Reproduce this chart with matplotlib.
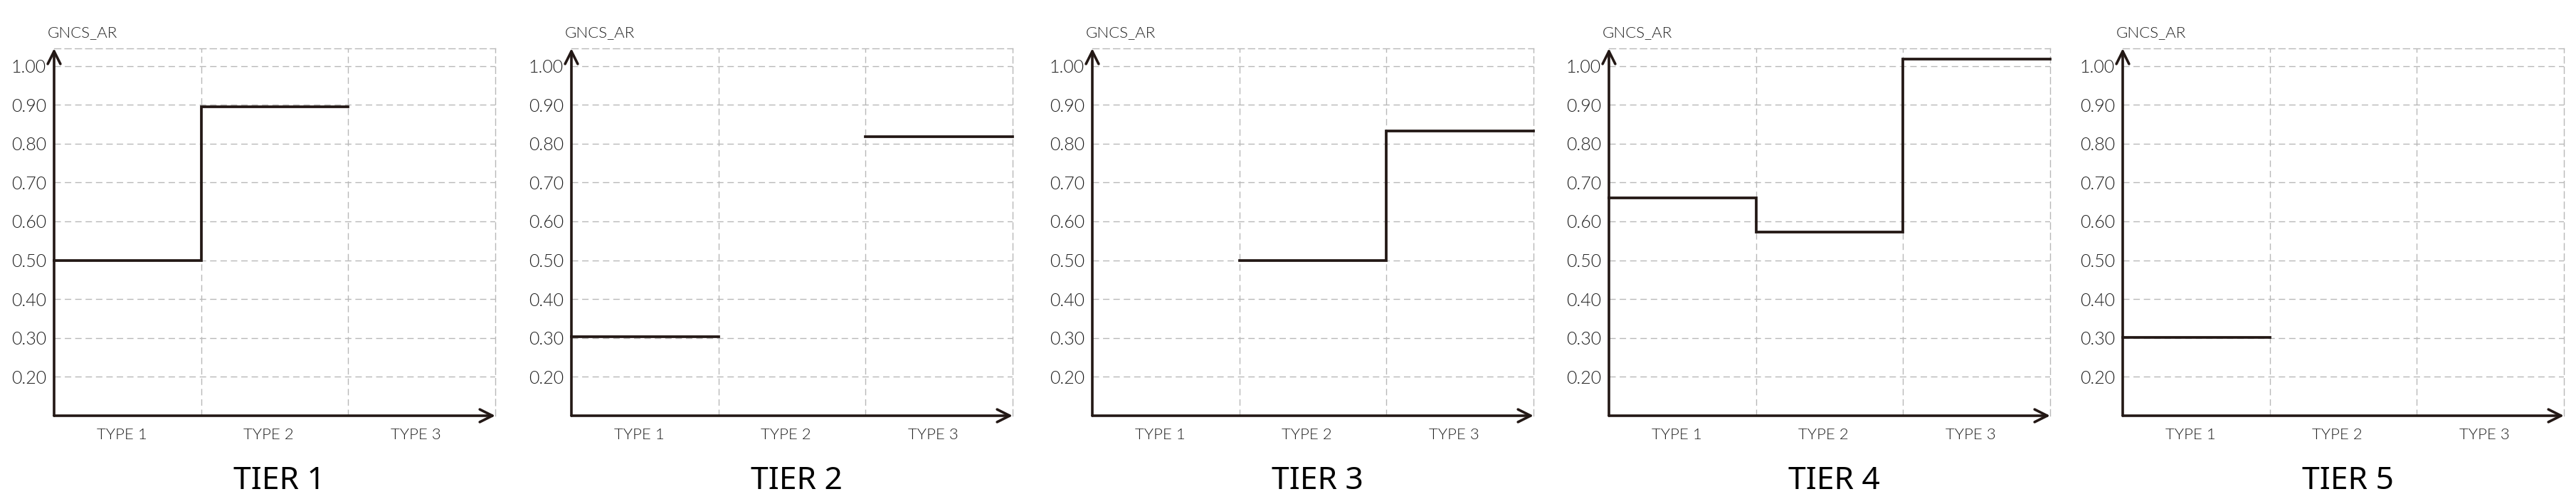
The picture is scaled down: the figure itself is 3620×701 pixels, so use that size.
import numpy as np
import matplotlib
matplotlib.use("Agg")
import matplotlib.pyplot as plt

# data
tiers = ["TIER 1", "TIER 2", "TIER 3", "TIER 4", "TIER 5"]
types = ["TYPE 1", "TYPE 2", "TYPE 3"]
tier1 = [0.50, 0.895, np.nan]
tier2 = [0.304, np.nan, 0.818]
tier3 = [np.nan, 0.50, 0.832]
tier4 = [0.661, 0.573, 1.018]
tier5 = [0.302, np.nan, np.nan]
yticks = [0.20, 0.30, 0.40, 0.50, 0.60, 0.70, 0.80, 0.90, 1.00]
ylabel = "GNCS_AR"

plt.rcParams['font.family'] = ['Noto Sans', 'DejaVu Sans']
plt.rcParams['lines.scale_dashes'] = False

dark = '#231815'
grid_col = '#b8b8b8'
label_col = '#1e1e1e'
thin_font = ['Lato', 'Noto Sans', 'DejaVu Sans']

fig = plt.figure(figsize=(36.2, 7.01), dpi=100)
lefts = [76, 803, 1535, 2261, 2983]
W, H = 3620, 701
ax_w = 620
y_bot, y_top = 584, 68

for i, vals in enumerate([tier1, tier2, tier3, tier4, tier5]):
    ax = fig.add_axes([lefts[i] / W, 1 - y_bot / H, ax_w / W, (y_bot - y_top) / H])
    ax.set_xlim(0, 3)
    ax.set_ylim(0.10, 1.045)

    # grid
    for y in yticks:
        ax.axhline(y, color=grid_col, lw=1.0, ls=(0, (6.5, 4)), zorder=1)
    for x in [1, 2]:
        ax.axvline(x, color=grid_col, lw=1.0, ls=(0, (6.5, 4)), zorder=1)

    for s in ['left', 'bottom']:
        ax.spines[s].set_visible(False)
    for s in ['top', 'right']:
        ax.spines[s].set_color(grid_col)
        ax.spines[s].set_linestyle((0, (6.5, 4)))
        ax.spines[s].set_linewidth(1.0)

    # axis arrows
    ax.annotate('', xy=(0, 1.0), xytext=(0, 0), xycoords='axes fraction',
                arrowprops=dict(arrowstyle='->', color=dark, lw=2.6,
                                mutation_scale=32, shrinkA=0, shrinkB=0),
                annotation_clip=False, zorder=5)
    ax.annotate('', xy=(1.0, 0), xytext=(0, 0), xycoords='axes fraction',
                arrowprops=dict(arrowstyle='->', color=dark, lw=2.6,
                                mutation_scale=32, shrinkA=0, shrinkB=0),
                annotation_clip=False, zorder=5)

    # step line
    xs = [0, 1, 2, 3]
    ys = list(vals) + [vals[-1]]
    ax.step(xs, ys, where='post', color=dark, lw=2.7, zorder=4,
            solid_joinstyle='miter', clip_on=False)

    ax.set_yticks(yticks)
    ax.set_yticklabels([f"{v:.2f}" for v in yticks])
    ax.set_xticks([0.46, 1.46, 2.46])
    ax.set_xticklabels(types)
    ax.tick_params(axis='y', length=0, pad=8, labelsize=18, labelcolor=label_col)
    ax.tick_params(axis='x', length=0, pad=12, labelsize=16, labelcolor=label_col)
    for lab in ax.get_xticklabels() + ax.get_yticklabels():
        lab.set_family(thin_font)
        lab.set_fontweight(300)

    ax.text(-0.015, 1.043, ylabel, transform=ax.transAxes, ha='left', va='center',
            fontsize=16, color=label_col, family=thin_font, fontweight=300)
    ax.text(0.51, -0.178, tiers[i], transform=ax.transAxes, ha='center', va='center',
            fontsize=32, color='black')

fig.savefig('out.png', dpi=100)
